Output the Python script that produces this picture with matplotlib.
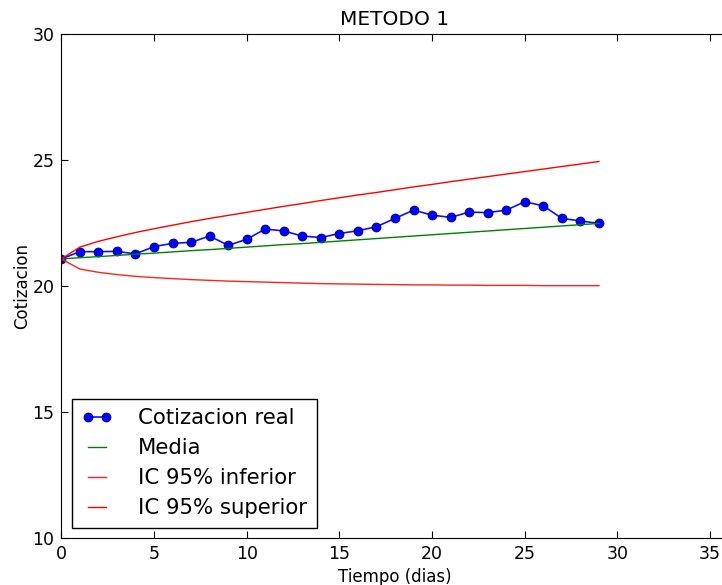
import matplotlib
matplotlib.use("Agg")
import matplotlib.pyplot as plt

dias = list(range(30))

cotizacion_real = [21.08, 21.37, 21.37, 21.38, 21.28, 21.57, 21.70, 21.74, 21.99, 21.62,
                   21.86, 22.27, 22.19, 21.99, 21.93, 22.09, 22.20, 22.36, 22.69, 23.02,
                   22.82, 22.73, 22.94, 22.92, 23.02, 23.35, 23.19, 22.69, 22.59, 22.49]

media = [21.08, 21.13, 21.17, 21.22, 21.27, 21.31, 21.36, 21.41, 21.45, 21.50,
         21.55, 21.60, 21.65, 21.69, 21.74, 21.79, 21.84, 21.89, 21.94, 21.99,
         22.04, 22.09, 22.14, 22.19, 22.24, 22.29, 22.34, 22.39, 22.44, 22.49]

ic_inferior = [21.08, 20.68, 20.55, 20.46, 20.39, 20.34, 20.30, 20.26, 20.23, 20.20,
               20.18, 20.16, 20.14, 20.12, 20.10, 20.09, 20.08, 20.07, 20.06, 20.05,
               20.05, 20.04, 20.04, 20.03, 20.03, 20.03, 20.02, 20.02, 20.02, 20.02]

ic_superior = [21.08, 21.55, 21.78, 21.96, 22.13, 22.28, 22.42, 22.56, 22.69, 22.81,
               22.93, 23.05, 23.17, 23.28, 23.40, 23.51, 23.62, 23.72, 23.83, 23.94,
               24.04, 24.15, 24.25, 24.35, 24.45, 24.55, 24.65, 24.75, 24.85, 24.95]

fig = plt.figure(figsize=(7.22, 5.85), dpi=100)
ax = fig.add_axes([61.3 / 722, 47 / 585, 667.4 / 722, 503.7 / 585])

ax.plot(dias, cotizacion_real, color="#1010ff", marker="o", markersize=6.5,
        markerfacecolor="b", markeredgecolor="#000033", markeredgewidth=0.5,
        linewidth=1.2, label="Cotizacion real")
ax.plot(dias, media, color="g", linewidth=1, label="Media")
ax.plot(dias, ic_inferior, color="#ff2020", linewidth=1, label="IC 95% inferior")
ax.plot(dias, ic_superior, color="r", linewidth=1, label="IC 95% superior")

ax.set_xlim(0, 36)
ax.set_ylim(10, 30)
ax.set_xticks([0, 5, 10, 15, 20, 25, 30, 35])
ax.set_yticks([10, 15, 20, 25, 30])
ax.tick_params(direction="in", top=True, right=True, length=5, labelsize=12.5, pad=5)

ax.set_title("METODO 1", fontsize=14.5, pad=7)
ax.set_xlabel("Tiempo (dias)", fontsize=12)
ax.set_ylabel("Cotizacion", fontsize=12, labelpad=1)

leg = ax.legend(loc="lower left", bbox_to_anchor=(11 / 667.4, 10.3 / 503.7),
                borderaxespad=0, fontsize=15.3, numpoints=2, handlelength=1.45,
                handletextpad=1.2, labelspacing=0.47, borderpad=0.45,
                fancybox=False, framealpha=1, edgecolor="black")
leg.get_frame().set_linewidth(1)

fig.savefig("out.png", dpi=100)
